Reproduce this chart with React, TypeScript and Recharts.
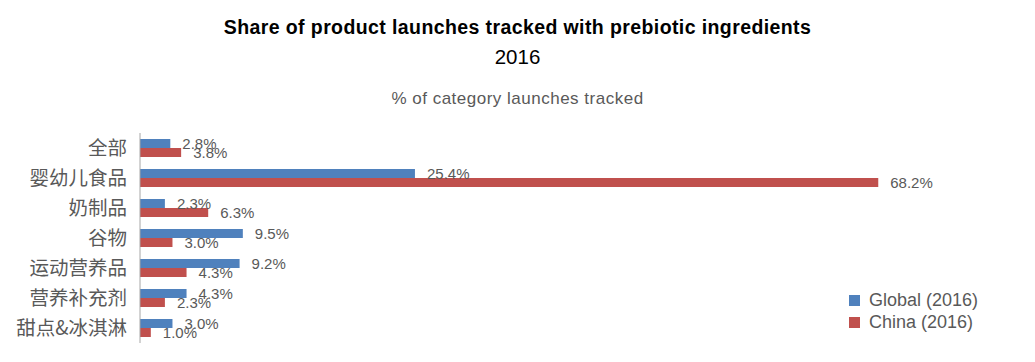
import React from 'react';
import { BarChart, Bar, XAxis, YAxis, LabelList } from 'recharts';

const categories = ['全部', '婴幼儿食品', '奶制品', '谷物', '运动营养品', '营养补充剂', '甜点&冰淇淋'];
const globalValues = [2.8, 25.4, 2.3, 9.5, 9.2, 4.3, 3.0];
const chinaValues = [3.8, 68.2, 6.3, 3.0, 4.3, 2.3, 1.0];
const seriesNames = ['Global (2016)', 'China (2016)'];
const colors = ['#4F81BD', '#C0504D'];

const data = categories.map((c, i) => ({ name: c, global: globalValues[i], china: chinaValues[i] }));

const fmt = (v: number) => `${v.toFixed(1)}%`;
const textColor = '#595959';
const latin = '"Liberation Sans", Arial, sans-serif';

export default function App() {
  return (
    <div style={{ position: 'absolute', left: 0, top: 0, width: 1035, height: 362, background: '#fff', overflow: 'hidden' }}>
      <div style={{ position: 'absolute', left: 0, top: 16, width: 1035, textAlign: 'center', fontFamily: latin, fontWeight: 'bold', fontSize: 19.5, letterSpacing: 0.4, color: '#000' }}>
        Share of product launches tracked with prebiotic ingredients
      </div>
      <div style={{ position: 'absolute', left: 0, top: 45, width: 1035, textAlign: 'center', fontFamily: latin, fontSize: 20.5, color: '#000' }}>
        2016
      </div>
      <div style={{ position: 'absolute', left: 0, top: 89, width: 1035, textAlign: 'center', fontFamily: latin, fontSize: 17, letterSpacing: 0.5, color: textColor }}>
        % of category launches tracked
      </div>
      <BarChart
        width={1035}
        height={362}
        data={data}
        layout="vertical"
        margin={{ top: 133, right: 29, bottom: 19, left: 0 }}
        barCategoryGap="20%"
        barGap={0}
        style={{ position: 'absolute', left: 0, top: 0 }}
      >
        <XAxis type="number" domain={[0, 80]} hide />
        <YAxis
          type="category"
          dataKey="name"
          width={140}
          interval={0}
          tickLine={false}
          tickSize={0}
          tickMargin={13}
          axisLine={{ stroke: '#A6A6A6' }}
          tick={{ fill: textColor, fontSize: 19.5, fontFamily: '"Noto Sans CJK SC", sans-serif' }}
        />
        <Bar dataKey="global" fill={colors[0]} isAnimationActive={false}>
          <LabelList dataKey="global" position="right" offset={12} formatter={fmt} fill={textColor} fontSize={15} fontFamily={latin} />
        </Bar>
        <Bar dataKey="china" fill={colors[1]} isAnimationActive={false}>
          <LabelList dataKey="china" position="right" offset={12} formatter={fmt} fill={textColor} fontSize={15} fontFamily={latin} />
        </Bar>
      </BarChart>
      {seriesNames.map((n, i) => (
        <div key={n} style={{ position: 'absolute', left: 849, top: 290 + i * 22, height: 20, display: 'flex', alignItems: 'center', fontFamily: latin, fontSize: 18, color: textColor }}>
          <span style={{ display: 'inline-block', width: 11, height: 11, background: colors[i], marginRight: 9 }} />
          {n}
        </div>
      ))}
    </div>
  );
}
